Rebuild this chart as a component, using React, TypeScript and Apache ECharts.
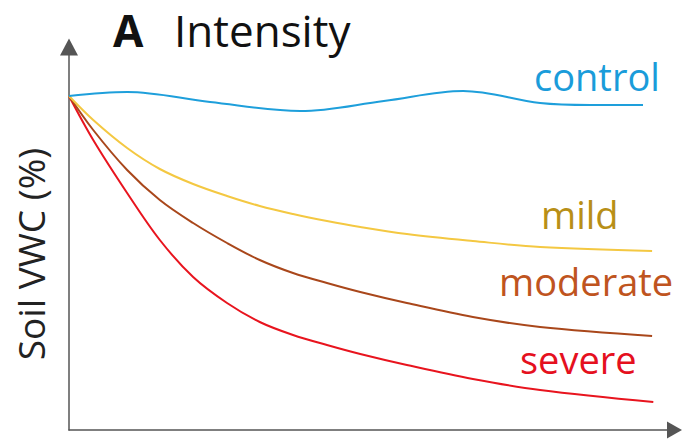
import React, { useEffect, useRef } from "react";
import * as echarts from "echarts";

// Time (relative units) and soil VWC (%)
const timeCommon: number[] = [0, 4.0, 9.6, 15.0, 20.5, 26.1, 31.5, 37.0, 42.6, 48.1, 55.8, 66.7, 77.8];
const controlTime: number[] = [0, 9.6, 23.3, 38.2, 52.0, 65.1, 77.8, 86.1, 94.8];
const controlVWC: number[] = [33.4, 33.8, 32.8, 31.9, 32.9, 33.9, 32.7, 32.5, 32.5];
const mildEnd: number[] = [96.3, 17.9];
const mildVWC: number[] = [33.4, 31.0, 28.2, 26.1, 24.6, 23.4, 22.4, 21.6, 20.9, 20.3, 19.6, 18.9, 18.3];
const moderateEnd: number[] = [96.3, 9.4];
const moderateVWC: number[] = [33.4, 30.0, 26.0, 23.0, 20.7, 18.7, 17.0, 15.7, 14.7, 13.8, 12.7, 11.3, 10.3];
const severeEnd: number[] = [96.5, 2.8];
const severeVWC: number[] = [33.4, 29.0, 23.7, 19.0, 15.3, 12.7, 10.8, 9.5, 8.5, 7.6, 6.5, 5.1, 4.0];

const seriesNames: string[] = ["control", "mild", "moderate", "severe"];
const titleLetter = "A";
const titleText = "Intensity";
const yAxisLabel = "Soil VWC (%)";

const FONT = "'Open Sans', 'Noto Sans', sans-serif";

function pairs(xs: number[], ys: number[], end?: number[]): number[][] {
  const out = xs.map((x, i) => [x, ys[i]]);
  if (end) out.push(end);
  return out;
}

export default function App() {
  const ref = useRef<HTMLDivElement>(null);
  useEffect(() => {
    document.body.style.margin = "0";
    if (!ref.current) return;
    const chart = echarts.init(ref.current, null, { renderer: "svg" });
    const lineColors = ["#1e9fdb", "#f4c842", "#a9471b", "#e8141e"];
    const labelColors = ["#1a9cda", "#b88f17", "#bf5420", "#e5101e"];
    const data = [
      pairs(controlTime, controlVWC),
      pairs(timeCommon, mildVWC, mildEnd),
      pairs(timeCommon, moderateVWC, moderateEnd),
      pairs(timeCommon, severeVWC, severeEnd),
    ];
    const labelPos = [
      [534, 76],
      [541, 214],
      [499, 281],
      [520, 359],
    ];
    chart.setOption({
      animation: false,
      backgroundColor: "#ffffff",
      grid: { left: 69, top: 47, right: 9.5, bottom: 9, containLabel: false },
      xAxis: {
        type: "value",
        min: 0,
        max: 100,
        axisLine: {
          show: true,
          symbol: ["none", "triangle"],
          symbolSize: [17, 15],
          lineStyle: { color: "#555555", width: 1.5 },
        },
        axisTick: { show: false },
        axisLabel: { show: false },
        splitLine: { show: false },
      },
      yAxis: {
        type: "value",
        min: 0,
        max: 38.3,
        axisLine: {
          show: true,
          symbol: ["none", "triangle"],
          symbolSize: [18, 17],
          lineStyle: { color: "#555555", width: 1.5 },
        },
        axisTick: { show: false },
        axisLabel: { show: false },
        splitLine: { show: false },
      },
      series: data.map((d, i) => ({
        name: seriesNames[i],
        type: "line",
        data: d,
        smooth: 0.35,
        showSymbol: false,
        lineStyle: { color: lineColors[i], width: 2 },
        z: 4 - i,
      })),
      graphic: [
        {
          type: "text",
          x: 113,
          y: 30,
          style: {
            text: titleLetter,
            font: `bold 44px ${FONT}`,
            fill: "#111111",
            verticalAlign: "middle",
          },
        },
        {
          type: "text",
          x: 174,
          y: 30,
          style: {
            text: titleText,
            font: `44px ${FONT}`,
            fill: "#111111",
            verticalAlign: "middle",
          },
        },
        {
          type: "text",
          x: 30,
          y: 254,
          rotation: Math.PI / 2,
          style: {
            text: yAxisLabel,
            font: `37px ${FONT}`,
            fill: "#222222",
            align: "center",
            verticalAlign: "middle",
          },
        },
        ...seriesNames.map((n, i) => ({
          type: "text",
          x: labelPos[i][0],
          y: labelPos[i][1],
          style: {
            text: n,
            font: `38px ${FONT}`,
            fill: labelColors[i],
            verticalAlign: "middle",
          },
        })),
      ],
    });
    return () => chart.dispose();
  }, []);
  return <div ref={ref} style={{ width: 684, height: 439 }} />;
}
